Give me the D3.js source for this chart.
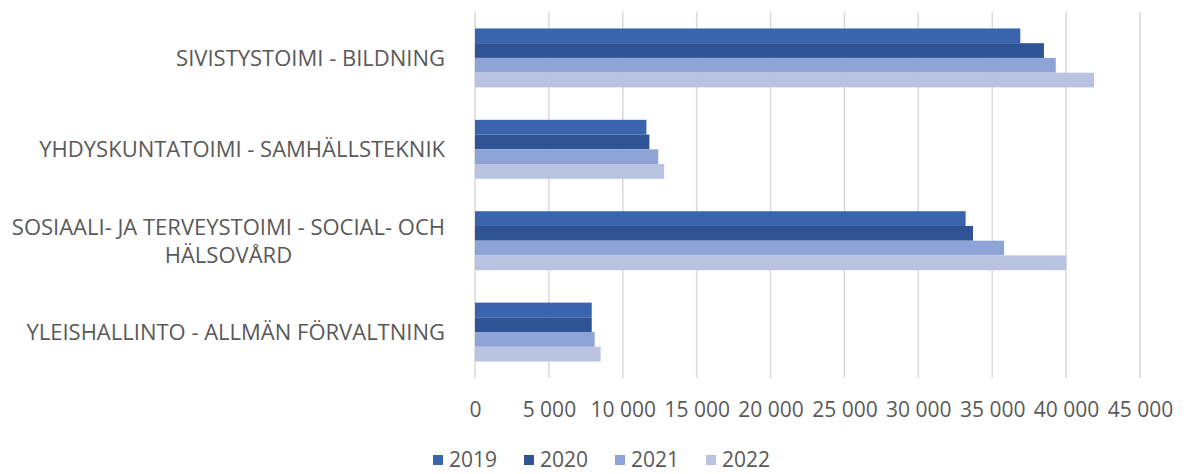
<!DOCTYPE html>
<html>
<head>
<meta charset="utf-8">
<script src="https://cdn.jsdelivr.net/npm/d3@7"></script>
<style>
  html, body { margin: 0; padding: 0; background: #fff; }
  svg { display: block; font-family: "Open Sans", sans-serif; }
</style>
</head>
<body>
<svg id="chart" width="1187" height="474"></svg>
<script>
// categories top to bottom
const categories = [
  "SIVISTYSTOIMI - BILDNING",
  "YHDYSKUNTATOIMI - SAMHÄLLSTEKNIK",
  "SOSIAALI- JA TERVEYSTOIMI - SOCIAL- OCH HÄLSOVÅRD",
  "YLEISHALLINTO - ALLMÄN FÖRVALTNING"
];
const years = ["2019", "2020", "2021", "2022"];
const values2019 = [36900, 11600, 33200, 7900];
const values2020 = [38500, 11800, 33700, 7900];
const values2021 = [39300, 12400, 35800, 8100];
const values2022 = [41900, 12800, 40000, 8500];
const xTicks = [0, 5000, 10000, 15000, 20000, 25000, 30000, 35000, 40000, 45000];

const series = [values2019, values2020, values2021, values2022];
const colors = ["#3a64ae", "#2f5496", "#8ea3d6", "#b8c3e2"];

const svg = d3.select("#chart");
const margin = { top: 12, right: 47, bottom: 96, left: 475 };
const width = 1187 - margin.left - margin.right;
const height = 474 - margin.top - margin.bottom;

const g = svg.append("g").attr("transform", `translate(${margin.left},${margin.top})`);

const x = d3.scaleLinear().domain([0, 45000]).range([0, width]);
const y = d3.scaleBand().domain(categories).range([0, height])
  .paddingInner(0.355).paddingOuter(0.18);
const yInner = d3.scaleBand().domain(years).range([0, y.bandwidth()]);

const fmt = v => d3.format(",")(v).replace(/,/g, "\u00a0");

// gridlines
g.append("g")
  .selectAll("line")
  .data(xTicks)
  .join("line")
  .attr("x1", d => x(d)).attr("x2", d => x(d))
  .attr("y1", 0).attr("y2", height)
  .attr("stroke", "#d9d9d9")
  .attr("stroke-width", 1.5);

// bars
categories.forEach((cat, ci) => {
  const grp = g.append("g").attr("transform", `translate(0,${y(cat)})`);
  years.forEach((yr, si) => {
    grp.append("rect")
      .attr("x", x(0))
      .attr("y", yInner(yr))
      .attr("width", x(series[si][ci]) - x(0))
      .attr("height", yInner.bandwidth())
      .attr("fill", colors[si]);
  });
});

// x axis labels
const xAxis = d3.axisBottom(x).tickValues(xTicks).tickFormat(fmt).tickSize(0).tickPadding(24);
const ax = g.append("g").attr("transform", `translate(0,${height})`).call(xAxis);
ax.select(".domain").remove();
ax.selectAll("text")
  .attr("fill", "#595959")
  .style("font-size", "21px")
  .style("font-family", "'Open Sans', sans-serif");

// category labels, wrapped and centred like the original
const labelRight = -30;
const maxLabelWidth = 445;
const labelSize = "22px";
categories.forEach(cat => {
  const cy = y(cat) + y.bandwidth() / 2;
  const t = g.append("text")
    .attr("fill", "#595959")
    .style("font-size", labelSize)
    .attr("text-anchor", "middle");
  const words = cat.split(/\s+/);
  const lines = [];
  let line = [];
  const probe = g.append("text").style("font-size", labelSize);
  words.forEach(w => {
    line.push(w);
    probe.text(line.join(" "));
    if (probe.node().getComputedTextLength() > maxLabelWidth && line.length > 1) {
      line.pop();
      lines.push(line.join(" "));
      line = [w];
    }
  });
  lines.push(line.join(" "));
  let blockW = 0;
  lines.forEach(l => {
    probe.text(l);
    blockW = Math.max(blockW, probe.node().getComputedTextLength());
  });
  probe.remove();
  const lineH = 28;
  const cx = labelRight - blockW / 2;
  const firstBase = cy + 8 - (lines.length - 1) * lineH / 2;
  lines.forEach((l, i) => {
    t.append("tspan").attr("x", cx).attr("y", firstBase + i * lineH).text(l);
  });
});

// legend
const legend = svg.append("g").attr("transform", "translate(433,460)");
years.forEach((yr, i) => {
  const item = legend.append("g").attr("transform", `translate(${i * 91},0)`);
  item.append("rect").attr("x", 0).attr("y", -5).attr("width", 10).attr("height", 10)
    .attr("fill", colors[i]);
  item.append("text").attr("x", 16).attr("y", 7)
    .attr("fill", "#595959")
    .style("font-size", "21px")
    .text(yr);
});
</script>
</body>
</html>
